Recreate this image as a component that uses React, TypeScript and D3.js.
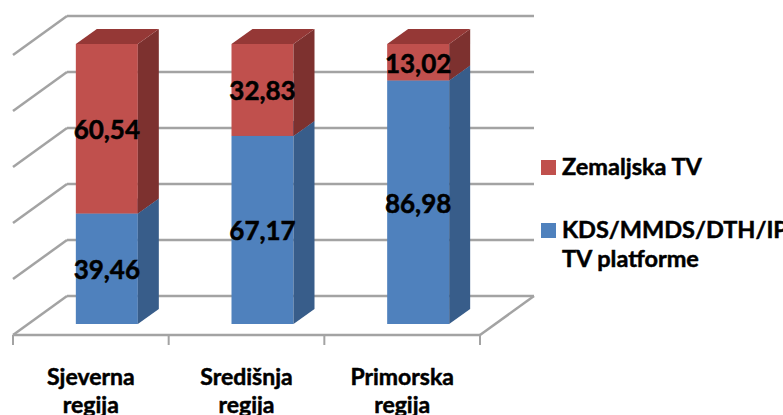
import React from "react";
import * as d3 from "d3";

const categories = ["Sjeverna regija", "Središnja regija", "Primorska regija"];
const kdsValues = [39.46, 67.17, 86.98];
const zemValues = [60.54, 32.83, 13.02];
const kdsLabels = ["39,46", "67,17", "86,98"];
const zemLabels = ["60,54", "32,83", "13,02"];
const gridTicks = [0, 20, 40, 60, 80, 100];
const legendItems = [
  { name: "Zemaljska TV", color: "#C0504D" },
  { name: "KDS/MMDS/DTH/IP TV platforme", color: "#4F81BD" },
];

const W = 783, H = 415;
const FONT = "Lato, 'Open Sans', sans-serif";

export default function App() {
  const floorLeft = 13, floorRight = 480, floorY = 335;
  const wdx = 54, wdy = -39;
  const bdx = 21, bdy = -15;
  const fdx = 15, fdy = -11;

  const x = d3.scaleBand<string>().domain(categories).range([floorLeft, floorRight]).paddingInner(0).paddingOuter(0);
  const barW = 62;
  const yBack = d3.scaleLinear().domain([0, 100]).range([floorY + wdy, floorY + wdy - 280]);
  const yFront = d3.scaleLinear().domain([0, 100]).range([floorY + fdy, floorY + fdy - 280]);

  const gridColor = "#a3a3a3";
  const textStroke = { stroke: "#000", strokeWidth: 0.5 };

  const bars: React.ReactNode[] = [];
  categories.forEach((c, i) => {
    const x0 = (x(c) as number) + fdx + (x.bandwidth() - barW) / 2 + 1;
    const segs = [
      { v0: 0, v1: kdsValues[i], front: "#4F81BD", side: "#385D8A", top: "#4572A7", label: kdsLabels[i] },
      { v0: kdsValues[i], v1: kdsValues[i] + zemValues[i], front: "#C0504D", side: "#7D312F", top: "#953836", label: zemLabels[i] },
    ];
    segs.forEach((s, j) => {
      const yb = yFront(s.v0), yt = yFront(s.v1);
      bars.push(
        <g key={`b${i}-${j}`}>
          <rect x={x0} y={yt} width={barW} height={yb - yt} fill={s.front} />
          <polygon
            points={`${x0 + barW},${yb} ${x0 + barW + bdx},${yb + bdy} ${x0 + barW + bdx},${yt + bdy} ${x0 + barW},${yt}`}
            fill={s.side}
          />
          <polygon
            points={`${x0},${yt} ${x0 + bdx},${yt + bdy} ${x0 + barW + bdx},${yt + bdy} ${x0 + barW},${yt}`}
            fill={s.top}
          />
        </g>
      );
    });
    segs.forEach((s, j) => {
      const yc = (yFront(s.v0) + yFront(s.v1)) / 2;
      bars.push(
        <text
          key={`t${i}-${j}`}
          x={x0 + barW / 2}
          y={yc + 1}
          dy="0.36em"
          textAnchor="middle"
          fontFamily={FONT}
          fontWeight="bold"
          fontSize={26}
          fill="#000"
          {...textStroke}
        >
          {s.label}
        </text>
      );
    });
  });

  return (
    <svg width={W} height={H} style={{ position: "absolute", left: 0, top: 0, background: "#fff" }}>
      {gridTicks.map((t) => (
        <line key={`g${t}`} x1={floorLeft + wdx} x2={floorRight + wdx} y1={yBack(t)} y2={yBack(t)} stroke={gridColor} strokeWidth={2.5} />
      ))}
      {gridTicks.map((t) => (
        <line key={`s${t}`} x1={floorLeft + wdx} y1={yBack(t)} x2={floorLeft} y2={yBack(t) - wdy} stroke={gridColor} strokeWidth={2.5} />
      ))}
      <line x1={floorLeft} x2={floorRight} y1={floorY} y2={floorY} stroke={gridColor} strokeWidth={2.5} />
      <line x1={floorRight} y1={floorY} x2={floorRight + wdx} y2={floorY + wdy} stroke={gridColor} strokeWidth={2.5} />
      {[...categories.map((c) => x(c) as number), floorRight].map((tx, i) => (
        <line key={`k${i}`} x1={tx} x2={tx} y1={floorY} y2={floorY + 10} stroke={gridColor} strokeWidth={2} />
      ))}
      {bars}
      {categories.map((c) => {
        const words = c.split(" ");
        const cx = (x(c) as number) + x.bandwidth() / 2;
        return (
          <text key={`c${c}`} x={cx} y={377} textAnchor="middle" fontFamily={FONT} fontWeight="bold" fontSize={23} fill="#000" {...textStroke}>
            {words.map((w, k) => (
              <tspan key={k} x={cx} dy={k === 0 ? "0.36em" : "1.2em"}>
                {w}
              </tspan>
            ))}
          </text>
        );
      })}
      <g>
        <rect x={541} y={160} width={15} height={15} fill={legendItems[0].color} />
        <text x={562} y={167} dy="0.36em" fontFamily={FONT} fontWeight="bold" fontSize={23.5} fill="#000" {...textStroke}>
          {legendItems[0].name}
        </text>
        <rect x={541} y={223} width={15} height={15} fill={legendItems[1].color} />
        <text x={562} y={230} dy="0.36em" fontFamily={FONT} fontWeight="bold" fontSize={23.5} fill="#000" {...textStroke}>
          <tspan x={562}>KDS/MMDS/DTH/IP</tspan>
          <tspan x={562} dy="1.2em">TV platforme</tspan>
        </text>
      </g>
    </svg>
  );
}
